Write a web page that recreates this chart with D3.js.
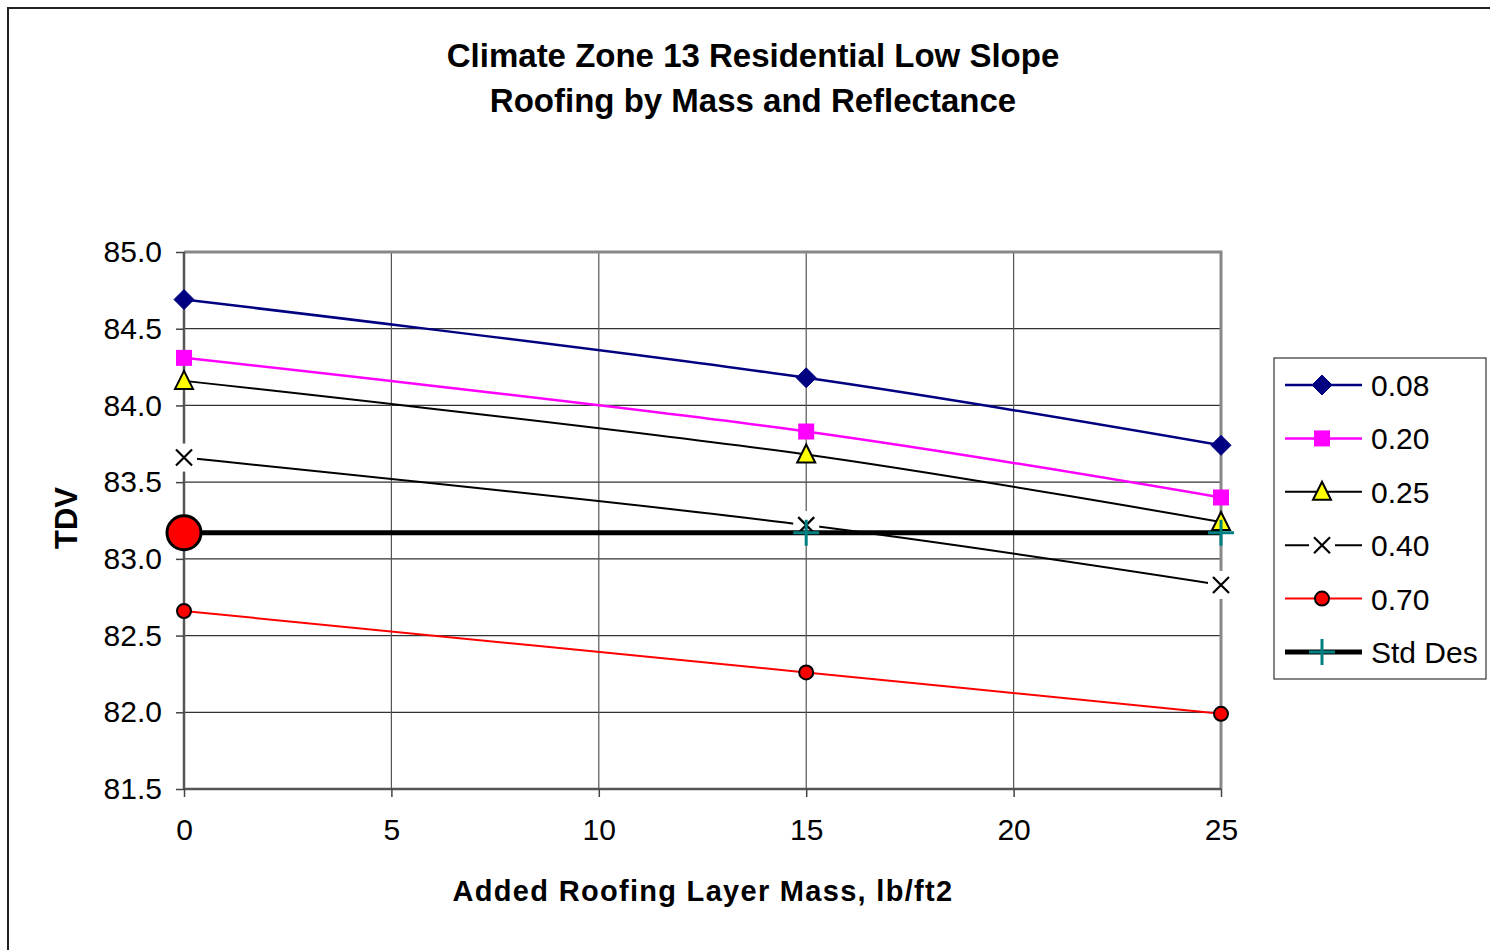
<!DOCTYPE html>
<html><head><meta charset="utf-8">
<script src="https://cdn.jsdelivr.net/npm/d3@7"></script>
<style>body{margin:0;background:#fff}svg{display:block}text{font-family:"Liberation Sans",Arial,sans-serif}</style>
</head><body><svg id="c" width="1490" height="950"></svg>
<script>
const masses = [0, 15, 25];
const seriesNames = ["0.08", "0.20", "0.25", "0.40", "0.70", "Std Des"];
const v008 = [84.69, 84.18, 83.74];
const v020 = [84.31, 83.83, 83.40];
const v025 = [84.16, 83.68, 83.24];
const v040 = [83.66, 83.22, 82.83];
const v070 = [82.66, 82.26, 81.99];
const vStd = [83.17, 83.17, 83.17];
const xTicks = [0, 5, 10, 15, 20, 25];
const yTicks = [81.5, 82.0, 82.5, 83.0, 83.5, 84.0, 84.5, 85.0];
const titleLines = ["Climate Zone 13 Residential Low Slope", "Roofing by Mass and Reflectance"];
const xTitle = "Added Roofing Layer Mass, lb/ft2";
const yTitle = "TDV";

const svg = d3.select("#c");
const L = 184, R = 1221, T = 252, B = 789;
const x = d3.scaleLinear().domain([0, 25]).range([L, R]);
const y = d3.scaleLinear().domain([81.5, 85.0]).range([B, T]);

// outer frame
svg.append("rect").attr("x", 8).attr("y", 8).attr("width", 1600).attr("height", 1000)
  .attr("fill", "none").attr("stroke", "#222").attr("stroke-width", 2);

// title
svg.selectAll(".title").data(titleLines).enter().append("text")
  .attr("x", 753).attr("y", (d, i) => 67 + i * 45).attr("text-anchor", "middle")
  .attr("font-size", 33).attr("font-weight", "bold").text(d => d);

// gridlines
svg.append("g").selectAll("line").data(yTicks.filter(t => t > 81.5 && t < 85)).enter().append("line")
  .attr("x1", L).attr("x2", R).attr("y1", d => y(d)).attr("y2", d => y(d))
  .attr("stroke", "#333").attr("stroke-width", 1.2);
svg.append("g").selectAll("line").data(xTicks.filter(t => t > 0 && t < 25)).enter().append("line")
  .attr("y1", T).attr("y2", B).attr("x1", d => x(d)).attr("x2", d => x(d))
  .attr("stroke", "#555").attr("stroke-width", 1.2);
// plot border top/right
svg.append("path").attr("d", `M${L},${T}H${R}V${B}`).attr("fill", "none")
  .attr("stroke", "#888").attr("stroke-width", 3);

// axes
const yAxis = d3.axisLeft(y).tickValues(yTicks).tickFormat(d3.format(".1f")).tickSize(8).tickPadding(14);
const gy = svg.append("g").attr("transform", `translate(${L},0)`).call(yAxis);
const xAxis = d3.axisBottom(x).tickValues(xTicks).tickSize(8).tickPadding(22);
const gx = svg.append("g").attr("transform", `translate(0,${B})`).call(xAxis);
[gx, gy].forEach(g => {
  g.select(".domain").attr("stroke", "#555").attr("stroke-width", 2.5);
  g.selectAll(".tick line").attr("stroke", "#444").attr("stroke-width", 1.5);
  g.selectAll(".tick text").attr("font-size", 30).attr("fill", "#000")
    .attr("font-family", '"Liberation Sans",Arial,sans-serif');
});
gx.select(".domain").attr("d", `M${L},0H${R}`);
gy.select(".domain").attr("d", `M0,${B}V${T}`);

// axis titles
svg.append("text").attr("x", 703).attr("y", 901).attr("text-anchor", "middle")
  .attr("font-size", 29).attr("font-weight", "bold").attr("letter-spacing", 1.3).text(xTitle);
svg.append("text").attr("transform", "translate(77,518) rotate(-90)").attr("text-anchor", "middle")
  .attr("font-size", 31).attr("font-weight", "bold").text(yTitle);

// markers
function marker(g, type, cx, cy, big) {
  if (type === "diamond") {
    g.append("path").attr("d", `M${cx},${cy-10}L${cx+10},${cy}L${cx},${cy+10}L${cx-10},${cy}Z`).attr("fill", "#000080").attr("stroke", "#000080");
  } else if (type === "square") {
    g.append("rect").attr("x", cx - 8).attr("y", cy - 8).attr("width", 16).attr("height", 16).attr("fill", "#ff00ff");
  } else if (type === "triangle") {
    g.append("path").attr("d", `M${cx},${cy-10}L${cx+9},${cy+8}L${cx-9},${cy+8}Z`).attr("fill", "#ffff00").attr("stroke", "#000").attr("stroke-width", 2);
  } else if (type === "x") {
    g.append("rect").attr("x", cx - 13).attr("y", cy - 14).attr("width", 26).attr("height", 28).attr("fill", "#fff");
    g.append("path").attr("d", `M${cx-8},${cy-8}L${cx+8},${cy+8}M${cx-8},${cy+8}L${cx+8},${cy-8}`).attr("stroke", "#000").attr("stroke-width", 2.2);
  } else if (type === "circle") {
    g.append("circle").attr("cx", cx).attr("cy", cy).attr("r", big ? 17 : 7).attr("fill", "#ff0000").attr("stroke", "#000").attr("stroke-width", big ? 3 : 2);
  } else if (type === "plus") {
    g.append("path").attr("d", `M${cx-13},${cy}H${cx+13}M${cx},${cy-13}V${cy+13}`).attr("stroke", "#008080").attr("stroke-width", 3);
  }
}

const series = [
  {name: seriesNames[0], vals: v008, color: "#000080", w: 2.5, m: "diamond"},
  {name: seriesNames[1], vals: v020, color: "#ff00ff", w: 2.5, m: "square"},
  {name: seriesNames[2], vals: v025, color: "#000", w: 2, m: "triangle"},
  {name: seriesNames[3], vals: v040, color: "#000", w: 2, m: "x"},
  {name: seriesNames[4], vals: v070, color: "#ff0000", w: 2, m: "circle"},
  {name: seriesNames[5], vals: vStd, color: "#000", w: 5, m: "plus"}
];
const line = d3.line().x((d, i) => x(masses[i])).y(d => y(d)).curve(d3.curveCatmullRom.alpha(0.5));
const plot = svg.append("g");
series.forEach(s => {
  const g = plot.append("g");
  g.append("path").attr("d", line(s.vals)).attr("fill", "none").attr("stroke", s.color).attr("stroke-width", s.w);
  s.vals.forEach((v, i) => {
    if (s.m === "plus" && i === 0) marker(g, "circle", x(masses[i]), y(v), true);
    else marker(g, s.m, x(masses[i]), y(v));
  });
});

// legend
const lg = svg.append("g");
lg.append("rect").attr("x", 1274).attr("y", 358).attr("width", 212).attr("height", 321)
  .attr("fill", "#fff").attr("stroke", "#333").attr("stroke-width", 1.2);
series.forEach((s, i) => {
  const yy = 385 + i * 53.4;
  lg.append("line").attr("x1", 1285).attr("x2", 1362).attr("y1", yy).attr("y2", yy)
    .attr("stroke", s.color).attr("stroke-width", s.w);
  marker(lg, s.m, 1322, yy);
  lg.append("text").attr("x", 1371).attr("y", yy + 11).attr("font-size", 30).text(s.name);
});
</script></body></html>
